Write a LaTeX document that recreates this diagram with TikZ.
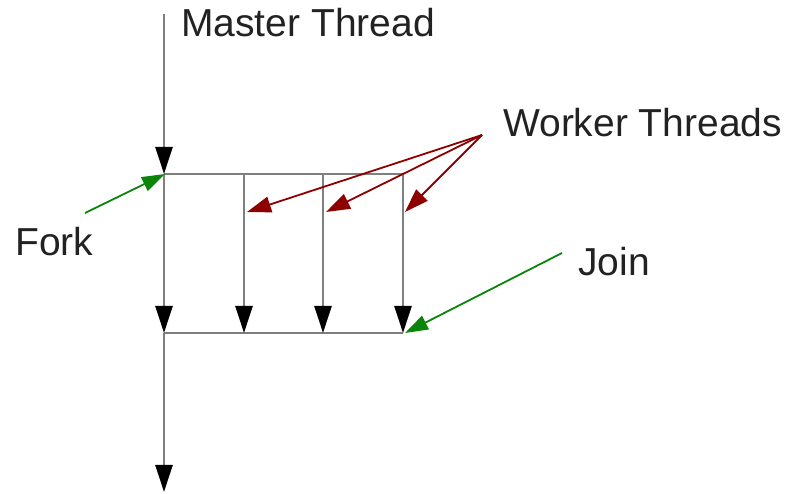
\documentclass[tikz,border=0pt]{standalone}
\usepackage{fontspec}
\setmainfont{Liberation Sans}
\usetikzlibrary{arrows.meta}
\definecolor{threadgray}{HTML}{7F7F7F}
\definecolor{headblack}{HTML}{000000}
\definecolor{wred}{HTML}{8E0000}
\definecolor{fgreen}{HTML}{0A850A}
\definecolor{txt}{HTML}{222222}
\tikzset{
  thread/.style={draw=threadgray, line width=2.6pt,
    -{Triangle[length=27pt,width=17pt,fill=headblack,color=headblack]}},
  bar/.style={draw=threadgray, line width=2.6pt},
  workerptr/.style={draw=wred, line width=1.8pt,
    -{Triangle[length=24pt,width=16pt]}},
  greenptr/.style={draw=fgreen, line width=1.8pt,
    -{Triangle[length=23pt,width=15pt]}},
  lbl/.style={inner sep=0pt, text=txt, font=\fontsize{39}{46}\selectfont, anchor=base west}
}
\begin{document}
\begin{tikzpicture}[x=1pt,y=-1pt]
\useasboundingbox (0,0) rectangle (788,494);
% thread points
\coordinate (m0) at (164,14);
\coordinate (f) at (164,174);
\coordinate (w1t) at (244,174);
\coordinate (w2t) at (323,174);
\coordinate (w3t) at (403,174);
\coordinate (j) at (164,333);
\coordinate (w1b) at (244,333);
\coordinate (w2b) at (323,333);
\coordinate (w3b) at (403,333);
\coordinate (e) at (164,492);
% bars
\draw[bar] (f) -- (w3t);
\draw[bar] (j) -- (w3b);
% threads
\draw[thread] (m0) -- (f);
\draw[thread] (f) -- (j);
\draw[thread] (w1t) -- (w1b);
\draw[thread] (w2t) -- (w2b);
\draw[thread] (w3t) -- (w3b);
\draw[thread] (j) -- (e);
% labels
\node[lbl] (mt) at (181,37) {Master Thread};
\node[lbl] (wt) at (503,137) {Worker Threads};
\node[lbl] (fk) at (15,256) {Fork};
\node[lbl] (jn) at (578,276) {Join};
% worker pointers
\coordinate (ws) at (482,135);
\coordinate (r1) at (247,212);
\coordinate (r2) at (326,212);
\coordinate (r3) at (405,212);
\draw[workerptr] (ws) -- (r1);
\draw[workerptr] (ws) -- (r2);
\draw[workerptr] (ws) -- (r3);
% fork / join pointers
\coordinate (fs) at (85,213);
\coordinate (fe) at (165,174);
\coordinate (js) at (562,253);
\coordinate (je) at (405,333);
\draw[greenptr] (fs) -- (fe);
\draw[greenptr] (js) -- (je);
\end{tikzpicture}
\end{document}
